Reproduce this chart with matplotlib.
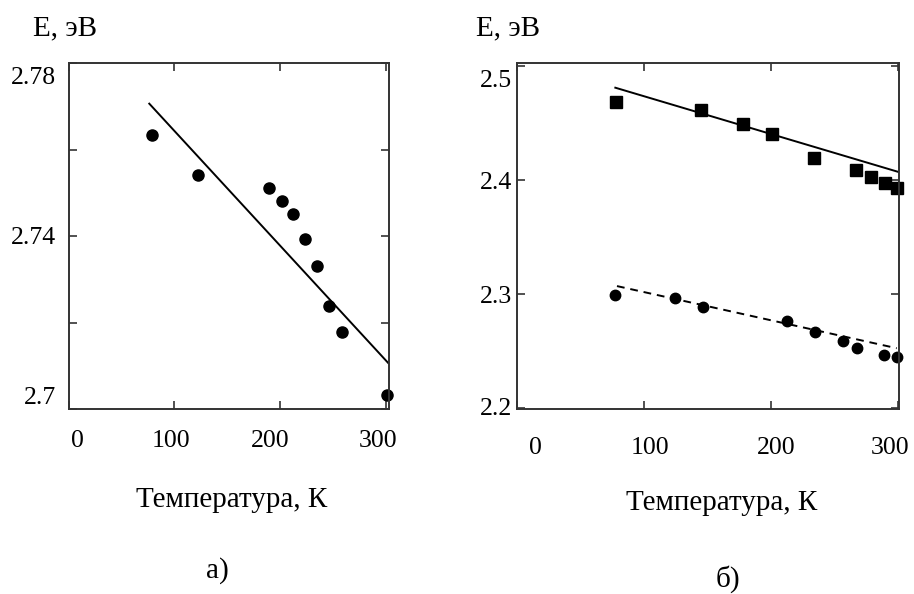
import matplotlib
matplotlib.use("Agg")
import matplotlib.pyplot as plt
from matplotlib.transforms import ScaledTranslation

plt.rcParams['font.family'] = ['Liberation Serif', 'DejaVu Serif']

# Panel a)
a_T = [78.6, 122.7, 189.9, 202.2, 212.6, 223.9, 235.3, 246.6, 258.4, 300.9]
a_E = [2.7633, 2.7541, 2.7511, 2.7480, 2.7452, 2.7392, 2.7330, 2.7237, 2.7179, 2.7032]
a_fit_T = [76.3, 302.4]
a_fit_E = [2.7706, 2.7106]

# Panel б)
b_sq_T = [77.8, 145.0, 178.3, 200.5, 233.9, 267.4, 278.9, 290.0, 299.2]
b_sq_E = [2.4687, 2.4614, 2.4491, 2.4404, 2.4199, 2.4094, 2.4024, 2.3976, 2.3936]
b_sq_fit_T = [77.3, 300.5]
b_sq_fit_E = [2.4813, 2.4073]

b_ci_T = [77.3, 124.3, 146.5, 212.3, 234.5, 256.6, 267.9, 289.5, 299.2]
b_ci_E = [2.2991, 2.2961, 2.2888, 2.2763, 2.2664, 2.2588, 2.2524, 2.2462, 2.2444]
b_ci_fit_T = [78.6, 299.2]
b_ci_fit_E = [2.3070, 2.2524]

x_ticks = [0, 100, 200, 300]
x_ticklabels = ['0', '100', '200', '300']
a_yticks = [2.70, 2.72, 2.74, 2.76, 2.78]
a_yticklabels = ['2.7', '', '2.74', '', '2.78']
b_yticks = [2.2, 2.3, 2.4, 2.5]
b_yticklabels = ['2.2', '2.3', '2.4', '2.5']

xlabel = 'Температура, К'
ylabel = 'E, эВ'

W, H = 914, 594
fig = plt.figure(figsize=(W / 100, H / 100), dpi=100)

FS_TICK = 18.5
FS_LAB = 21
spine_c = '#333333'

def px_ax(l, r, t, b):
    return fig.add_axes([l / W, 1 - b / H, (r - l) / W, (b - t) / H])

axA = px_ax(68.6, 389, 63, 409)
axB = px_ax(517.3, 899, 63, 409)

# panel a
axA.plot(a_fit_T, a_fit_E, color='black', lw=1.4)
axA.plot(a_T, a_E, 'o', color='black', ms=8, clip_on=False)
axA.set_xlim(0, 303)
axA.set_ylim(2.70, 2.78)

# panel b
axB.plot(b_sq_fit_T, b_sq_fit_E, color='black', lw=1.4)
axB.plot(b_sq_T, b_sq_E, 's', color='black', ms=9, clip_on=False)
axB.plot(b_ci_fit_T, b_ci_fit_E, color='black', lw=1.4, ls=(0, (4, 3)))
axB.plot(b_ci_T, b_ci_E, 'o', color='black', ms=7.5, clip_on=False)
axB.set_xlim(2, 301)
axB.set_ylim(2.199, 2.503)

for ax, yt, ytl, ypad, xpad in [(axA, a_yticks, a_yticklabels, 9, 15),
                                (axB, b_yticks, b_yticklabels, 4, 20)]:
    ax.set_xticks(x_ticks)
    ax.set_xticklabels(x_ticklabels)
    ax.set_yticks(yt)
    ax.set_yticklabels(ytl)
    ax.tick_params(direction='in', length=6, width=1.2, color=spine_c,
                   top=True, right=True, labelsize=FS_TICK)
    ax.tick_params(axis='x', pad=xpad)
    ax.tick_params(axis='y', pad=ypad)
    for s in ax.spines.values():
        s.set_color(spine_c)
        s.set_linewidth(1.4)

# shift tick labels (pixels)
def shift_labels(labels, offsets, axis='x'):
    for lab, d in zip(labels, offsets):
        if axis == 'x':
            tr = ScaledTranslation(d / 100, 0, fig.dpi_scale_trans)
        else:
            tr = ScaledTranslation(0, d / 100, fig.dpi_scale_trans)
        lab.set_transform(lab.get_transform() + tr)

shift_labels(axA.get_xticklabels(), [9, -3, -10, -8])
shift_labels(axB.get_xticklabels(), [18, 6, 5, -8])
shift_labels(axA.get_yticklabels(), [14, 0, 0, 0, -12], axis='y')
shift_labels(axB.get_yticklabels(), [1, 0, 0, -12], axis='y')

fig.text(33 / W, 1 - 28 / H, ylabel, fontsize=FS_LAB, ha='left', va='center')
fig.text(476 / W, 1 - 28 / H, ylabel, fontsize=FS_LAB, ha='left', va='center')

fig.text(232 / W, 1 - 500 / H, xlabel, fontsize=FS_LAB, ha='center', va='center')
fig.text(722 / W, 1 - 503 / H, xlabel, fontsize=FS_LAB, ha='center', va='center')
fig.text(217 / W, 1 - 571 / H, 'а)', fontsize=FS_LAB, ha='center', va='center')
fig.text(728 / W, 1 - 579 / H, 'б)', fontsize=FS_LAB, ha='center', va='center')

fig.savefig('out.png', dpi=100)
